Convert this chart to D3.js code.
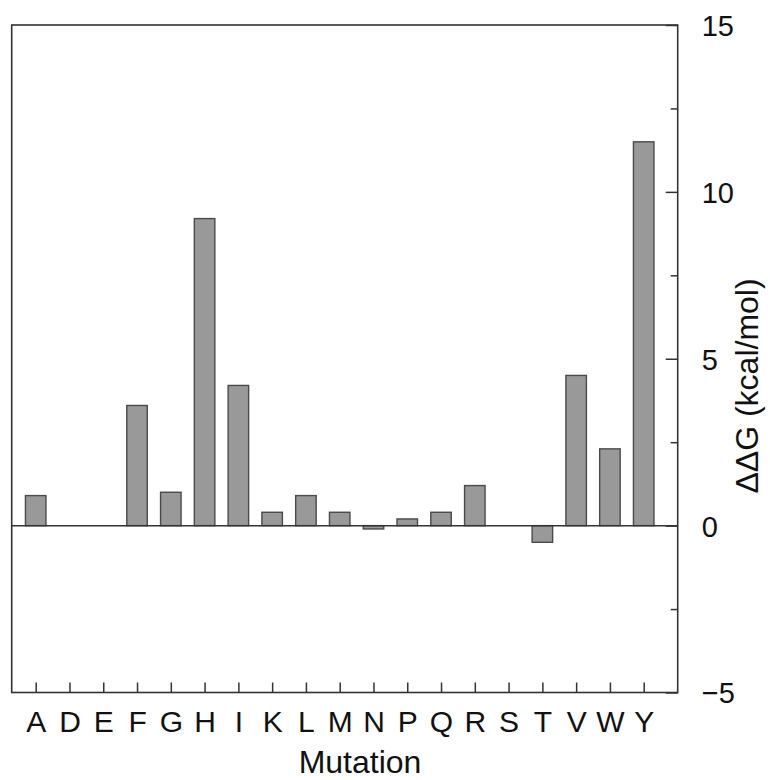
<!DOCTYPE html>
<html>
<head>
<meta charset="utf-8">
<script src="https://cdn.jsdelivr.net/npm/d3@7"></script>
<style>
html,body{margin:0;padding:0;background:#fff;}
svg{display:block;}
text{font-family:"Liberation Sans",Arial,Helvetica,sans-serif;fill:#111;}
</style>
</head>
<body>
<script>
const categories = ["A","D","E","F","G","H","I","K","L","M","N","P","Q","R","S","T","V","W","Y"];
const ddG = [0.9,0,0,3.6,1.0,9.2,4.2,0.4,0.9,0.4,-0.1,0.2,0.4,1.2,0,-0.5,4.5,2.3,11.5];
const majorTicks = [15,10,5,0,-5];
const minorTicks = [12.5,7.5,2.5,-2.5];
const xTitle = "Mutation";
const yTitle = "ΔΔG (kcal/mol)";

const W = 770, H = 780;
const L = 11.7, R = 677.7, T = 25, B = 692.5;

const svg = d3.select("body").append("svg").attr("width", W).attr("height", H);

const y = d3.scaleLinear().domain([-5, 15]).range([B, T]);
const x = d3.scalePoint().domain(categories).range([L + 24, R - 34]);
const barW = 20.5;

// bars
svg.append("g").selectAll("rect").data(categories).join("rect")
  .attr("x", (d) => x(d) - barW / 2)
  .attr("y", (d, i) => y(Math.max(0, ddG[i])))
  .attr("width", barW)
  .attr("height", (d, i) => Math.abs(y(ddG[i]) - y(0)))
  .attr("fill", "#999999")
  .attr("stroke", "#4a4a4a")
  .attr("stroke-width", 1.4);

// zero line
svg.append("line")
  .attr("x1", L).attr("x2", R).attr("y1", y(0)).attr("y2", y(0))
  .attr("stroke", "#333").attr("stroke-width", 1.5);

// frame
svg.append("rect")
  .attr("x", L).attr("y", T).attr("width", R - L).attr("height", B - T)
  .attr("fill", "none").attr("stroke", "#333").attr("stroke-width", 1.6);

// right axis (ticks inward)
const yAxisMajor = d3.axisRight(y).tickValues(majorTicks).tickSize(-12).tickPadding(0)
  .tickFormat(d => d < 0 ? "\u2212" + Math.abs(d) : String(d));
const gy = svg.append("g").attr("transform", `translate(${R},0)`).call(yAxisMajor);
gy.select(".domain").remove();
gy.selectAll(".tick line").attr("stroke", "#333").attr("stroke-width", 1.5);
gy.selectAll(".tick text")
  .attr("x", 24).attr("dy", "0.36em").attr("text-anchor", "start")
  .style("font-size", "29px").style("font-family", '"Liberation Sans", Arial, sans-serif').attr("fill", "#111");

const yAxisMinor = d3.axisRight(y).tickValues(minorTicks).tickSize(-7).tickFormat("");
const gy2 = svg.append("g").attr("transform", `translate(${R},0)`).call(yAxisMinor);
gy2.select(".domain").remove();
gy2.selectAll(".tick line").attr("stroke", "#333").attr("stroke-width", 1.5);

// bottom axis (ticks inward)
const xAxis = d3.axisBottom(x).tickSize(-10).tickPadding(0);
const gx = svg.append("g").attr("transform", `translate(0,${B})`).call(xAxis);
gx.select(".domain").remove();
gx.selectAll(".tick line").attr("stroke", "#333").attr("stroke-width", 1.5);
gx.selectAll(".tick text")
  .attr("y", 39).attr("dy", 0)
  .style("font-size", "30px").style("font-family", '"Liberation Sans", Arial, sans-serif').attr("fill", "#111");

// titles
svg.append("text")
  .attr("x", 360).attr("y", 773)
  .attr("text-anchor", "middle")
  .style("font-size", "32px")
  .text(xTitle);

svg.append("text")
  .attr("transform", "translate(758,386) rotate(-90)")
  .attr("text-anchor", "middle")
  .style("font-size", "32px")
  .text(yTitle);
</script>
</body>
</html>
